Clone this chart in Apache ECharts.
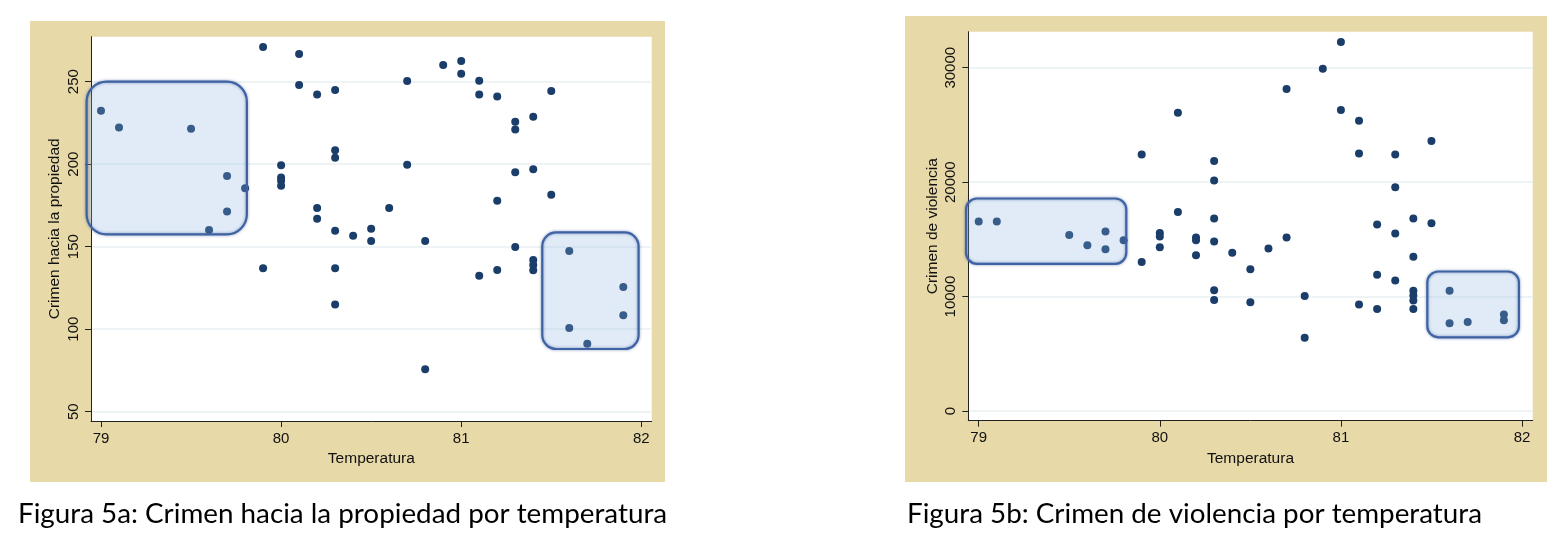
<!DOCTYPE html>
<html>
<head>
<meta charset="utf-8">
<script src="https://cdn.jsdelivr.net/npm/echarts@6/dist/echarts.min.js"></script>
<style>
  html, body { margin: 0; padding: 0; background: #fff; }
  #main { width: 1558px; height: 542px; }
</style>
</head>
<body>
<div id="main"></div>
<script>
// Figura 5a: temperatura vs crimen hacia la propiedad
var tempA = [79.0, 79.1, 79.5, 79.6, 79.7, 79.7, 79.8, 79.9, 79.9, 80.0, 80.0, 80.0, 80.0,
  80.1, 80.1, 80.2, 80.2, 80.2, 80.3, 80.3, 80.3, 80.3, 80.3, 80.3, 80.4, 80.5, 80.5,
  80.6, 80.7, 80.7, 80.8, 80.8, 80.9, 81.0, 81.0, 81.1, 81.1, 81.1, 81.2, 81.2, 81.2,
  81.3, 81.3, 81.3, 81.3, 81.4, 81.4, 81.4, 81.4, 81.4, 81.5, 81.5, 81.6, 81.6, 81.7,
  81.9, 81.9];
var propA = [232.4, 222.3, 221.5, 160.1, 192.8, 171.4, 185.4, 271, 136.9, 199.3, 192, 190, 187,
  266.8, 248, 242.3, 173.4, 167, 244.9, 208.4, 203.9, 159.7, 136.9, 114.9, 156.7, 160.9, 153.4,
  173.4, 250.4, 199.7, 153.4, 75.7, 260.1, 262.5, 254.8, 250.6, 242.3, 132.4, 241.1, 177.9, 135.9,
  225.8, 221.1, 195.1, 149.8, 228.8, 196.9, 141.9, 138.9, 135.7, 244.3, 181.5, 147.4, 100.7, 91.2,
  125.6, 108.4];

// Figura 5b: temperatura vs crimen de violencia
var tempB = [79.0, 79.1, 79.5, 79.6, 79.7, 79.7, 79.8, 79.9, 79.9, 80.0, 80.0, 80.0,
  80.1, 80.1, 80.2, 80.2, 80.2, 80.3, 80.3, 80.3, 80.3, 80.3, 80.3, 80.4, 80.5, 80.5,
  80.6, 80.7, 80.7, 80.8, 80.8, 80.9, 81.0, 81.0, 81.1, 81.1, 81.1, 81.2, 81.2, 81.2,
  81.3, 81.3, 81.3, 81.3, 81.4, 81.4, 81.4, 81.4, 81.4, 81.4, 81.5, 81.5, 81.6, 81.6, 81.7,
  81.9, 81.9];
var violB = [16560, 16560, 15390, 14490, 15690, 14140, 14930, 22420, 13030, 15550, 15250, 14320,
  26060, 17380, 15160, 14930, 13620, 21840, 20150, 16820, 14810, 10550, 9710, 13820, 12390, 9500,
  14200, 28130, 15160, 10060, 6410, 29910, 32250, 26300, 25360, 22510, 9300, 16300, 11900, 8920,
  22420, 19560, 15510, 11400, 16820, 13470, 10500, 10100, 9650, 8920, 23590, 16410, 10500, 7670, 7780,
  8430, 7930];

var ticksTemp = [79, 80, 81, 82];
var ticksProp = [50, 100, 150, 200, 250];
var ticksViol = [0, 10000, 20000, 30000];

// highlighted regions [x1, y1, x2, y2] in data units
var boxesA = [[78.92, 250, 79.81, 157.5], [81.45, 158.7, 81.985, 88]];
var boxesB = [[78.93, 18570, 79.815, 12860], [81.477, 12190, 81.983, 6440]];

var captionA = 'Figura 5a: Crimen hacia la propiedad por temperatura';
var captionB = 'Figura 5b: Crimen de violencia por temperatura';

function zip(xs, ys) {
  var out = [];
  for (var i = 0; i < xs.length; i++) out.push([xs[i], ys[i]]);
  return out;
}

var axisFont = { fontFamily: 'Liberation Sans', fontSize: 15, color: '#111' };

function xAxisCfg(gridIndex, min, max) {
  return {
    type: 'value', gridIndex: gridIndex, min: min, max: max,
    name: 'Temperatura', nameLocation: 'middle', nameGap: 28,
    nameTextStyle: { fontFamily: 'Liberation Sans', fontSize: 15.5, color: '#111' },
    axisLine: { show: true, onZero: false, lineStyle: { color: '#222', width: 1 } },
    axisTick: { show: true, length: 6, customValues: ticksTemp, lineStyle: { color: '#222' } },
    axisLabel: Object.assign({ customValues: ticksTemp, margin: 10 }, axisFont),
    splitLine: { show: false }
  };
}

function yAxisCfg(gridIndex, min, max, ticks, name) {
  return {
    type: 'value', gridIndex: gridIndex, min: min, max: max,
    name: name, nameLocation: 'middle', nameGap: 28,
    nameTextStyle: { fontFamily: 'Liberation Sans', fontSize: 15.5, color: '#111' },
    axisLine: { show: true, onZero: false, lineStyle: { color: '#222', width: 1 } },
    axisTick: { show: true, length: 6, customValues: ticks, lineStyle: { color: '#222' } },
    axisLabel: Object.assign({
      customValues: ticks, margin: 10, rotate: 90,
      formatter: function (v) { return String(v); }
    }, axisFont),
    splitLine: { show: true, lineStyle: { color: '#e9f1f2', width: 1.5 } }
  };
}

var chart = echarts.init(document.getElementById('main'));

var captionStyle = { fontFamily: 'Lato', fontSize: 27.8, fontWeight: 'normal', color: '#000' };

var option = {
  animation: false,
  backgroundColor: '#fff',
  title: [
    { text: captionA, left: 13, top: 495, textStyle: captionStyle },
    { text: captionB, left: 902, top: 495, textStyle: captionStyle }
  ],
  graphic: [
    { type: 'rect', z: -100, silent: true, shape: { x: 30, y: 21, width: 635, height: 461 },
      style: { fill: '#e7d9a8' } },
    { type: 'rect', z: -100, silent: true, shape: { x: 905, y: 16, width: 642, height: 466 },
      style: { fill: '#e7d9a8' } }
  ],
  grid: [
    { left: 91, top: 36.7, width: 560.7, height: 384.3, show: true,
      backgroundColor: '#fff', borderWidth: 0, outerBoundsMode: 'none' },
    { left: 968.3, top: 31.7, width: 564.4, height: 389, show: true,
      backgroundColor: '#fff', borderWidth: 0, outerBoundsMode: 'none' }
  ],
  xAxis: [
    xAxisCfg(0, 78.9445, 82.0577),
    xAxisCfg(1, 78.9426, 82.059)
  ],
  yAxis: [
    yAxisCfg(0, 44.36, 277.27, ticksProp, 'Crimen hacia la propiedad'),
    yAxisCfg(1, -848, 33147, ticksViol, 'Crimen de violencia')
  ],
  series: [
    { type: 'scatter', xAxisIndex: 0, yAxisIndex: 0, data: zip(tempA, propA),
      symbolSize: 8, itemStyle: { color: '#1a3d6a', opacity: 1 } },
    { type: 'scatter', xAxisIndex: 1, yAxisIndex: 1, data: zip(tempB, violB),
      symbolSize: 8, itemStyle: { color: '#1a3d6a', opacity: 1 } }
  ]
};
chart.setOption(option);

// rounded highlight boxes drawn over the points: a translucent fill plus a soft border
function boxGraphics(boxes, gridIndex, radius) {
  var out = [];
  boxes.forEach(function (b) {
    var p1 = chart.convertToPixel({ gridIndex: gridIndex }, [b[0], b[1]]);
    var p2 = chart.convertToPixel({ gridIndex: gridIndex }, [b[2], b[3]]);
    var shape = { x: p1[0], y: p1[1], width: p2[0] - p1[0], height: p2[1] - p1[1], r: radius };
    out.push({ type: 'rect', z: 100, silent: true, shape: shape,
      style: { fill: 'rgba(140,180,224,0.27)' } });
    out.push({ type: 'rect', z: 101, silent: true, shape: shape,
      style: { fill: null, stroke: '#3f62a3', lineWidth: 2.2,
        shadowBlur: 3, shadowColor: 'rgba(50,80,150,0.6)' } });
  });
  return out;
}

var extra = option.graphic.concat(boxGraphics([boxesA[0]], 0, 20))
  .concat(boxGraphics([boxesA[1]], 0, 14))
  .concat(boxGraphics(boxesB, 1, 11));
chart.setOption({ graphic: extra });
</script>
</body>
</html>
